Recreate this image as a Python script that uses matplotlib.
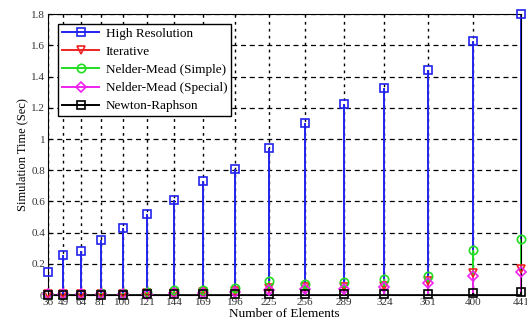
import numpy as np
import matplotlib as mpl
mpl.use('Agg')
import matplotlib.pyplot as plt
from matplotlib.lines import Line2D
from matplotlib.legend_handler import HandlerLine2D

elements = [36, 49, 64, 81, 100, 121, 144, 169, 196, 225, 256, 289, 324, 361, 400, 441]
high_res = [0.15, 0.26, 0.28, 0.355, 0.43, 0.52, 0.61, 0.73, 0.81, 0.945, 1.105, 1.225, 1.33, 1.445, 1.625, 1.80]
iterative = [0.005, 0.005, 0.006, 0.008, 0.01, 0.012, 0.015, 0.02, 0.025, 0.045, 0.05, 0.05, 0.06, 0.09, 0.14, 0.165]
nm_simple = [0.008, 0.008, 0.01, 0.015, 0.015, 0.02, 0.03, 0.035, 0.045, 0.09, 0.07, 0.085, 0.105, 0.12, 0.29, 0.36]
nm_special = [0.004, 0.004, 0.005, 0.006, 0.008, 0.01, 0.012, 0.015, 0.02, 0.035, 0.04, 0.04, 0.05, 0.08, 0.125, 0.15]
newton = [0.002, 0.002, 0.003, 0.003, 0.003, 0.004, 0.004, 0.005, 0.005, 0.006, 0.007, 0.008, 0.009, 0.01, 0.015, 0.02]

series = [
    ('High Resolution', high_res, '#2222ee', 's'),
    ('Iterative', iterative, '#ee2222', 'v'),
    ('Nelder-Mead (Simple)', nm_simple, '#22dd22', 'o'),
    ('Nelder-Mead (Special)', nm_special, '#ee22ee', 'D'),
    ('Newton-Raphson', newton, 'black', 's'),
]


class EndMarkerHandler(HandlerLine2D):
    # matlab style legend: marker sits at the right end of the line
    def get_xdata(self, legend, xdescent, ydescent, width, height, fontsize):
        xdata = np.array([-xdescent, -xdescent + width])
        return xdata, np.array([-xdescent + width * 0.85])


plt.rcParams['font.family'] = ['Liberation Serif', 'DejaVu Serif']

fig = plt.figure(figsize=(5.27, 3.29), dpi=100)
ax = fig.add_axes([0.091, 0.103, 0.898, 0.854])

handles = []
for label, vals, color, mk in series:
    ms = 6 if mk != 'D' else 5
    ax.vlines(elements, 0, vals, colors=color, lw=1.4, zorder=2)
    ax.plot(elements, vals, ls='none', marker=mk, ms=ms, mfc='none',
            mec=color, mew=1.2, zorder=3, clip_on=False)
    handles.append(Line2D([], [], color=color, lw=1.4, marker=mk, ms=ms,
                          mfc='none', mec=color, mew=1.2, label=label))

ax.axhline(0, color='black', lw=1.2, zorder=2)

ax.set_xlim(36, 441)
ax.set_ylim(0, 1.8)
ax.set_xticks(elements)
ax.set_xticklabels([str(e) for e in elements], fontsize=8, color='#333333')
ax.set_yticks(np.arange(0, 1.81, 0.2))
ax.set_yticklabels(['0', '0.2', '0.4', '0.6', '0.8', '1', '1.2', '1.4', '1.6', '1.8'],
                   fontsize=8, color='#333333')
ax.tick_params(direction='in', length=3, pad=2)
ax.xaxis.grid(True, ls=(0, (2, 3)), color='black', lw=1.0)
ax.yaxis.grid(True, ls=(0, (4, 3)), color='black', lw=0.9)
ax.set_axisbelow(True)

ax.set_xlabel('Number of Elements', fontsize=9.5, labelpad=1)
ax.set_ylabel('Simulation Time (Sec)', fontsize=9, labelpad=2)

leg = ax.legend(handles=handles, loc='upper left', fontsize=9.5, fancybox=False,
                framealpha=1, edgecolor='black', handlelength=2.8,
                handler_map={Line2D: EndMarkerHandler(numpoints=1)},
                borderpad=0.3, labelspacing=0.45, handletextpad=0.5,
                bbox_to_anchor=(0.008, 0.99))
leg.get_frame().set_linewidth(1.0)

fig.savefig('out.png', dpi=100)
